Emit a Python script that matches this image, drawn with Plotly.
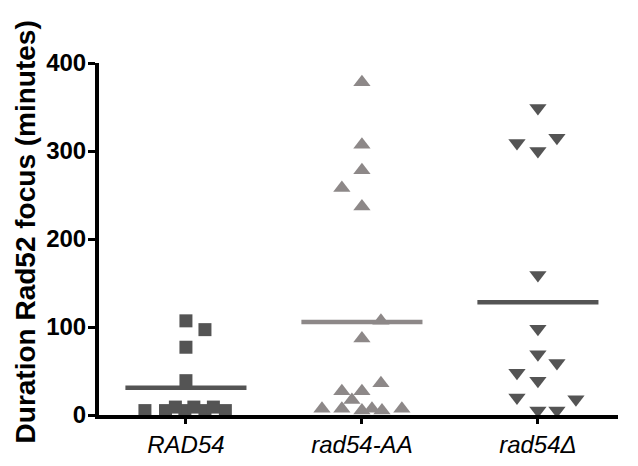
import numpy as np
import plotly.graph_objects as go

categories = ["RAD54", "rad54-AA", "rad54Δ"]

# values (minutes) and horizontal scatter offsets (category units)
rad54_values = [107, 97, 77, 39, 5, 5, 5, 5, 5, 9, 9, 9]
rad54_offsets = [0.0, 0.108, 0.0, 0.0, -0.233, -0.116, -0.006, 0.108, 0.224, -0.06, 0.045, 0.156]

rad54aa_values = [378, 307, 278, 258, 237, 107, 87, 36, 27, 27, 17, 7, 7, 5, 7, 5, 7]
rad54aa_offsets = [0.0, 0.0, 0.0, -0.114, 0.0, 0.108, 0.0, 0.108, -0.114, 0.0, -0.057,
                   -0.227, -0.114, 0.0, 0.057, 0.114, 0.227]

rad54d_values = [349, 309, 300, 315, 159, 98, 69, 59, 48, 39, 20, 18, 5, 5]
rad54d_offsets = [0.0, -0.119, 0.0, 0.108, 0.0, 0.0, 0.0, 0.108, -0.119, 0.0, -0.119, 0.216, 0.0, 0.108]

y_ticks = [0, 100, 200, 300, 400]

series = [
    (rad54_values, rad54_offsets, "square", "#545454", 13),
    (rad54aa_values, rad54aa_offsets, "triangle-up", "#8d8888", 15),
    (rad54d_values, rad54d_offsets, "triangle-down", "#545454", 15),
]

fig = go.Figure()
half = 0.344
for i, (vals, offs, sym, col, sz) in enumerate(series):
    fig.add_trace(go.Scatter(
        x=[i + o for o in offs], y=vals, mode="markers",
        marker=dict(symbol=sym, color=col, size=sz, line=dict(width=0)),
        cliponaxis=False, showlegend=False, hoverinfo="y"))
    m = float(np.mean(vals))
    fig.add_trace(go.Scatter(
        x=[i - half, i + half], y=[m, m], mode="lines",
        line=dict(color=col, width=4.5), cliponaxis=False,
        showlegend=False, hoverinfo="y"))

font_family = "Liberation Sans, Arial, sans-serif"

fig.update_layout(
    width=638, height=466,
    margin=dict(l=91, r=28, t=55, b=59),
    paper_bgcolor="white", plot_bgcolor="white",
    font=dict(family=font_family, color="black"),
    xaxis=dict(
        range=[-0.494, 2.455], tickmode="array", tickvals=[0, 1, 2], ticktext=categories,
        showline=True, linewidth=4, linecolor="black", ticks="outside",
        tickwidth=3, ticklen=5, tickcolor="black", showgrid=False, zeroline=False,
        tickfont=dict(family=font_family, size=24, style="italic", color="black"),
    ),
    yaxis=dict(
        range=[0, 400], tickmode="array", tickvals=y_ticks,
        showline=True, linewidth=4, linecolor="black", ticks="outside",
        tickwidth=3, ticklen=7, tickcolor="black", showgrid=False, zeroline=False,
        ticklabelstandoff=-3,
        tickfont=dict(family=font_family, size=24, weight="bold", color="black"),
    ),
    annotations=[dict(
        text="Duration Rad52 focus (minutes)", textangle=-90,
        xref="paper", yref="paper", x=-0.141, y=0.521,
        xanchor="center", yanchor="middle", showarrow=False,
        font=dict(family=font_family, size=28, weight="bold", color="black"),
    )],
)

fig.write_html("out.html")
